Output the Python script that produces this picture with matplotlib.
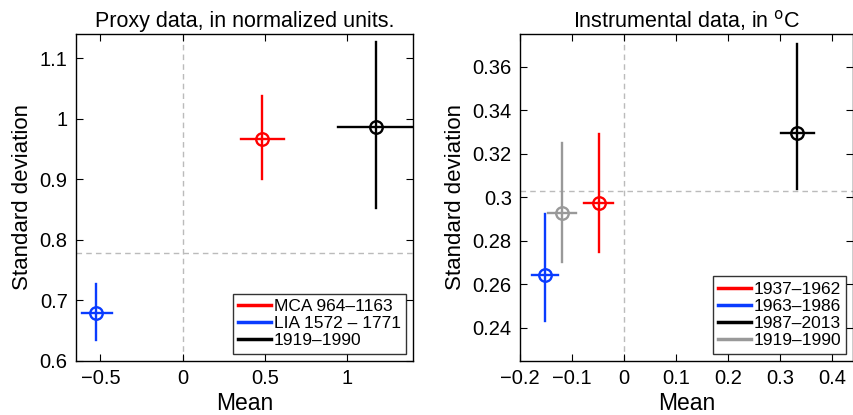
"""Mean vs standard deviation of proxy and instrumental periods."""

import matplotlib

matplotlib.use("Agg")
import matplotlib.pyplot as plt
from matplotlib.lines import Line2D

plt.rcParams["font.family"] = ["Liberation Sans", "DejaVu Sans"]

# proxy panel
proxy_labels = ["MCA 964\u20131163", "LIA 1572 \u2013 1771", "1919\u20131990"]
proxy_colors = ["#ff0000", "#0a3cff", "#000000"]
proxy_mean = [0.483, -0.526, 1.174]
proxy_mean_lo = [0.354, -0.613, 0.943]
proxy_mean_hi = [0.617, -0.431, 1.390]
proxy_std = [0.967, 0.679, 0.986]
proxy_std_lo = [0.900, 0.634, 0.853]
proxy_std_hi = [1.037, 0.727, 1.127]
proxy_ref_std = 0.778

# instrumental panel
inst_labels = ["1937\u20131962", "1963\u20131986", "1987\u20132013", "1919\u20131990"]
inst_colors = ["#ff0000", "#0a3cff", "#000000", "#999999"]
inst_mean = [-0.0487, -0.1526, 0.3327, -0.119]
inst_mean_lo = [-0.0776, -0.178, 0.3026, -0.1468]
inst_mean_hi = [-0.0212, -0.127, 0.366, -0.0923]
inst_std = [0.2975, 0.2641, 0.3297, 0.2927]
inst_std_lo = [0.2746, 0.2432, 0.3036, 0.2700]
inst_std_hi = [0.3290, 0.2923, 0.3703, 0.3248]
inst_ref_std = 0.303


def draw_panel(ax, labels, colors, mean, mean_lo, mean_hi, std, std_lo, std_hi, ref_std):
    ax.axvline(0, color="#bbbbbb", linestyle=(0, (4, 3)), linewidth=1.0, zorder=1)
    ax.axhline(ref_std, color="#bbbbbb", linestyle=(0, (4, 3)), linewidth=1.0, zorder=1)
    for i in range(len(labels)):
        c = colors[i]
        ax.plot([mean_lo[i], mean_hi[i]], [std[i], std[i]], color=c, linewidth=1.7, zorder=3)
        ax.plot([mean[i], mean[i]], [std_lo[i], std_hi[i]], color=c, linewidth=1.7, zorder=3)
        ax.plot(mean[i], std[i], "o", markerfacecolor="none", markeredgecolor=c,
                markersize=9, markeredgewidth=1.7, zorder=4)
    handles = [Line2D([0], [0], color=c, linewidth=2.5) for c in colors]
    leg = ax.legend(handles, labels, loc="lower right", fontsize=12.5, frameon=True, fancybox=False,
                    handlelength=1.9, handletextpad=0.15, borderpad=0.3, borderaxespad=0.4,
                    labelspacing=0.12)
    leg.get_frame().set_edgecolor("black")
    leg.get_frame().set_linewidth(1.0)
    ax.tick_params(direction="in", top=True, right=True, labelsize=14.5, length=5, width=0.8, pad=6)
    for sp in ax.spines.values():
        sp.set_linewidth(1.0)
    ax.set_xlabel("Mean", fontsize=16.5, labelpad=3)
    ax.set_ylabel("Standard deviation", fontsize=16, labelpad=5)


fig = plt.figure(figsize=(8.54, 4.15), dpi=100)
ax1 = fig.add_axes([0.089, 0.131, 0.3946, 0.7865])
ax2 = fig.add_axes([0.609, 0.131, 0.390, 0.7865])

draw_panel(ax1, proxy_labels, proxy_colors, proxy_mean, proxy_mean_lo, proxy_mean_hi,
           proxy_std, proxy_std_lo, proxy_std_hi, proxy_ref_std)
ax1.set_xlim(-0.648, 1.398)
ax1.set_ylim(0.6, 1.14)
ax1.set_xticks([-0.5, 0, 0.5, 1])
ax1.set_xticklabels(["\u22120.5", "0", "0.5", "1"])
ax1.set_yticks([0.6, 0.7, 0.8, 0.9, 1.0, 1.1])
ax1.set_yticklabels(["0.6", "0.7", "0.8", "0.9", "1", "1.1"])
ax1.set_title("Proxy data, in normalized units.", fontsize=15.5, pad=5)

draw_panel(ax2, inst_labels, inst_colors, inst_mean, inst_mean_lo, inst_mean_hi,
           inst_std, inst_std_lo, inst_std_hi, inst_ref_std)
ax2.set_xlim(-0.2, 0.441)
ax2.set_ylim(0.2248, 0.375)
ax2.set_xticks([-0.2, -0.1, 0, 0.1, 0.2, 0.3, 0.4])
ax2.set_xticklabels(["\u22120.2", "\u22120.1", "0", "0.1", "0.2", "0.3", "0.4"])
ax2.set_yticks([0.24, 0.26, 0.28, 0.30, 0.32, 0.34, 0.36])
ax2.set_yticklabels(["0.24", "0.26", "0.28", "0.3", "0.32", "0.34", "0.36"])
ax2.set_title("Instrumental data, in $^{\\mathrm{o}}$C", fontsize=15.5, pad=5)

fig.savefig("out.png", dpi=100)
